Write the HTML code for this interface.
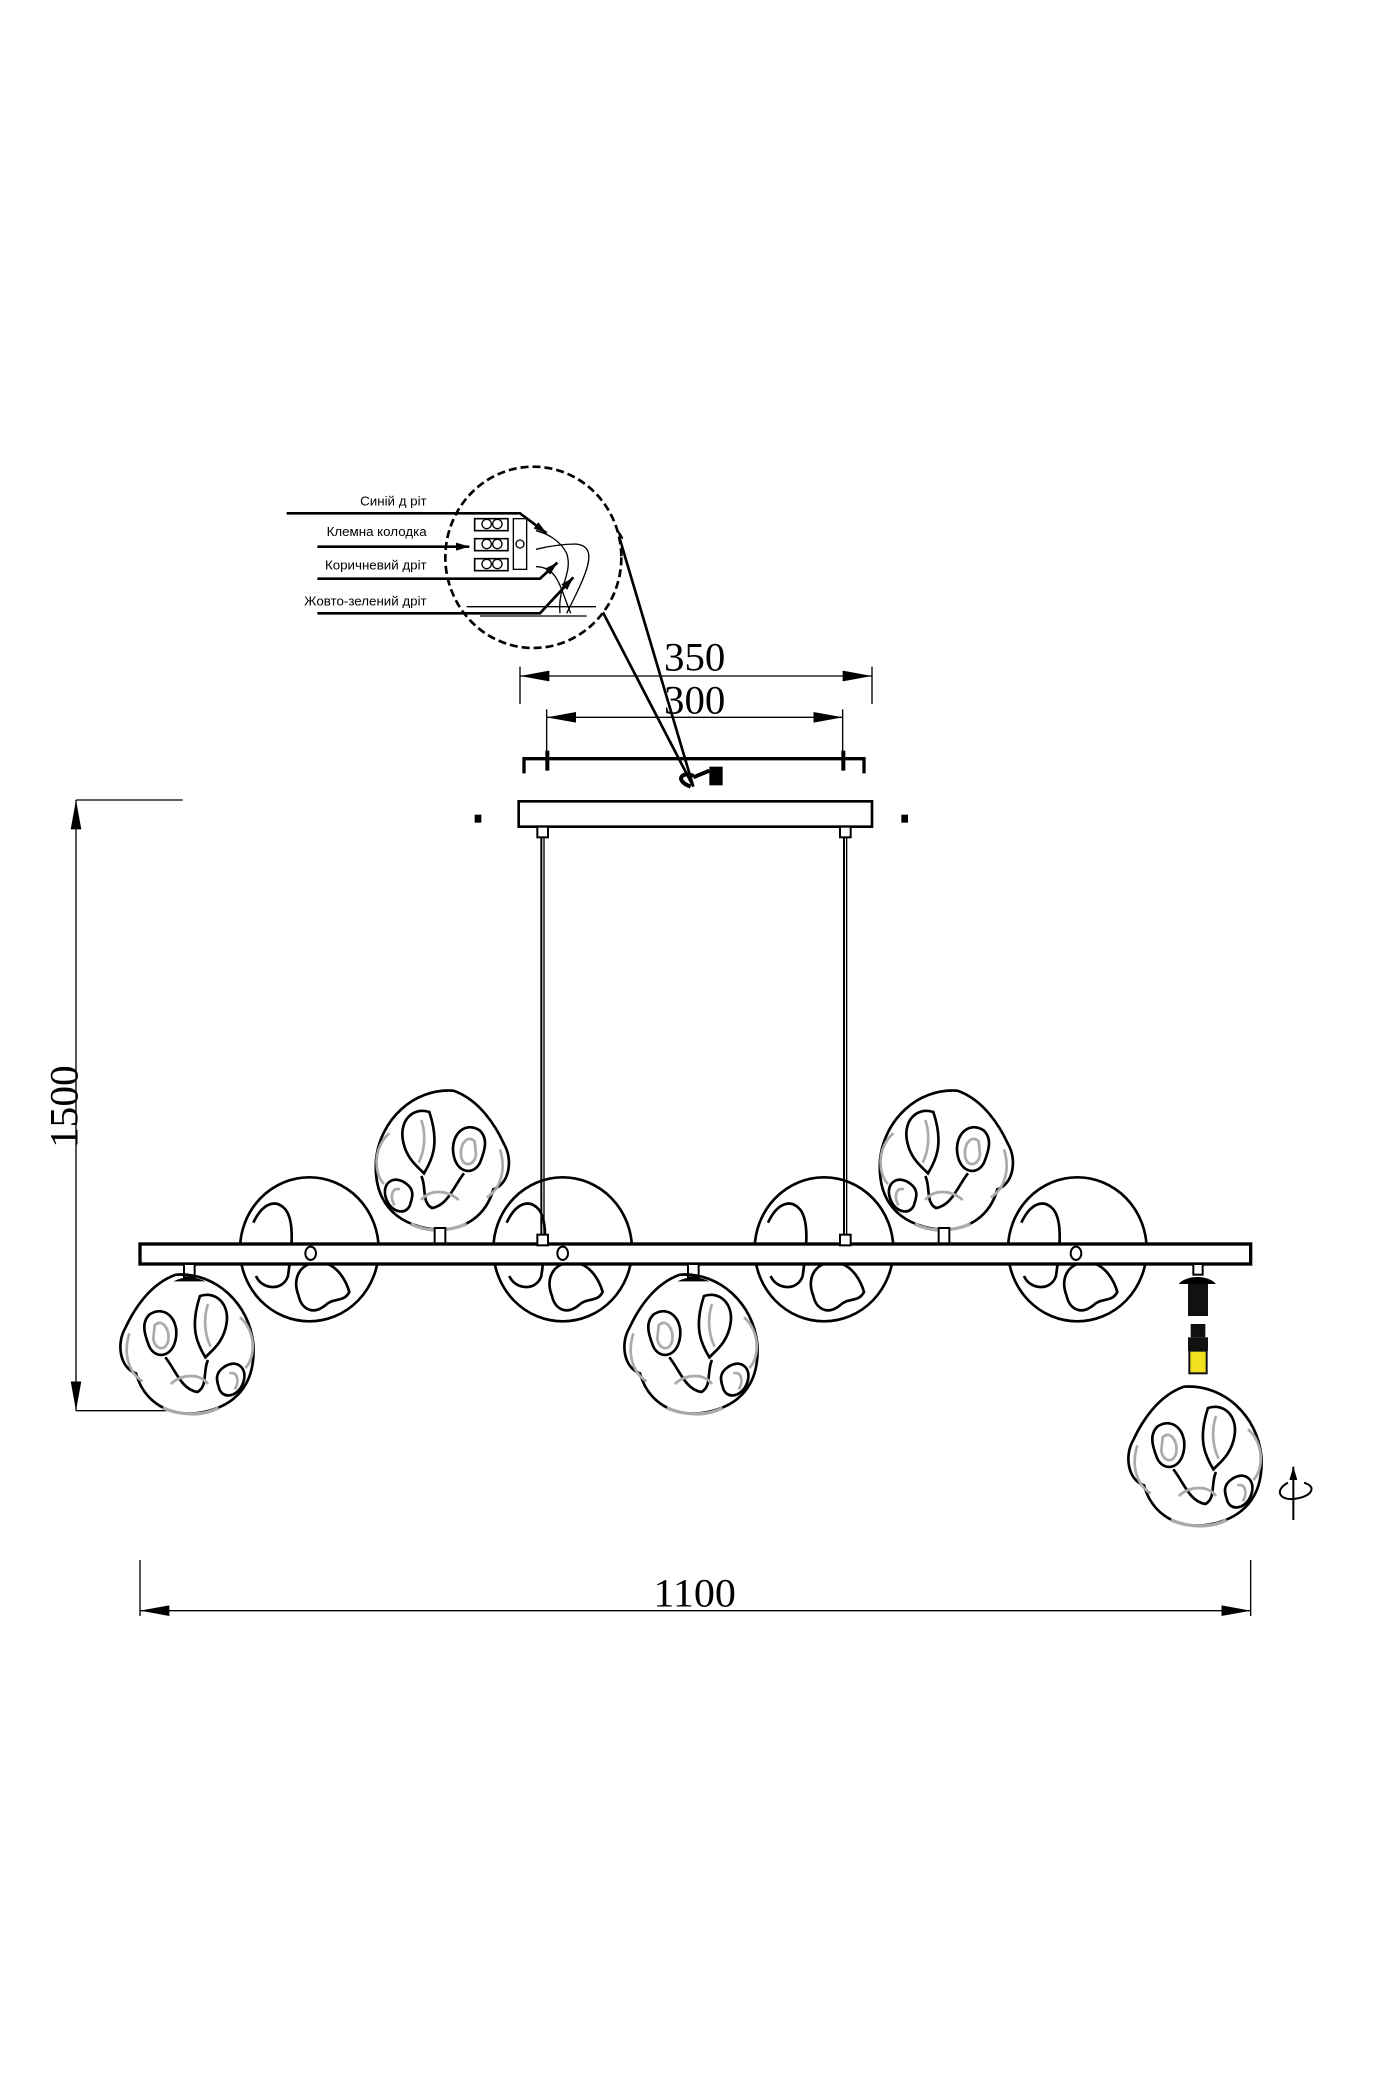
<!DOCTYPE html>
<html><head><meta charset="utf-8"><style>html,body{margin:0;padding:0;background:#fff}svg{display:block}</style></head>
<body>
<svg width="1400" height="2100" viewBox="0 0 1050 1575" xmlns="http://www.w3.org/2000/svg">
<defs>
<marker id="ar" viewBox="0 0 10 6" refX="10" refY="3" markerWidth="10" markerHeight="6" orient="auto-start-reverse" markerUnits="userSpaceOnUse"><path d="M0,0 L10,3 L0,6 Z" fill="#000"/></marker>
<marker id="ab" viewBox="0 0 22 8" refX="22" refY="4" markerWidth="22" markerHeight="8" orient="auto-start-reverse" markerUnits="userSpaceOnUse"><path d="M0,0 L22,4 L0,8 Z" fill="#000"/></marker>
<g id="tg">
 <path d="M-10,-52 C20,-54 45,-30 48,0 C50,30 35,48 5,52 C-20,54 -35,40 -40,22 C-52,18 -55,0 -48,-12 C-42,-25 -30,-45 -10,-52 Z" fill="none" stroke="#000" stroke-width="2"/>
 <path d="M-30,-22 C-18,-30 -8,-18 -10,-5 C-12,10 -25,12 -30,2 C-34,-8 -36,-16 -30,-22 Z" fill="none" stroke="#000" stroke-width="2"/>
 <path d="M-26,-14 C-20,-20 -14,-10 -16,-2 C-18,6 -26,4 -27,-4 Z" fill="none" stroke="#aaa" stroke-width="2"/>
 <path d="M8,-36 C20,-40 30,-30 28,-16 C26,-2 18,4 12,10 C6,0 0,-12 8,-36 Z" fill="none" stroke="#000" stroke-width="2"/>
 <path d="M14,-30 C10,-18 12,-6 16,2" fill="none" stroke="#aaa" stroke-width="2"/>
 <path d="M25,18 C35,10 45,18 40,30 C36,40 24,42 22,32 C20,26 20,22 25,18 Z" fill="none" stroke="#000" stroke-width="2"/>
 <path d="M30,22 C36,20 38,28 34,34" fill="none" stroke="#aaa" stroke-width="2"/>
 <path d="M-18,10 C-10,20 -6,34 6,36 C14,32 10,20 14,12" fill="none" stroke="#000" stroke-width="2"/>
 <path d="M-14,30 C-5,22 8,22 14,30" fill="none" stroke="#aaa" stroke-width="2"/>
 <path d="M-45,-8 C-50,8 -45,22 -35,28" fill="none" stroke="#aaa" stroke-width="2"/>
 <path d="M38,-20 C50,-10 50,10 42,18" fill="none" stroke="#aaa" stroke-width="2"/>
 <path d="M-20,48 C-5,54 10,54 22,48" fill="none" stroke="#aaa" stroke-width="2.5"/>
</g>
<g id="cg">
 <ellipse cx="0" cy="0" rx="52" ry="54" fill="none" stroke="#000" stroke-width="2"/>
 <path d="M-42,-20 C-35,-35 -25,-38 -18,-30 C-10,-20 -14,5 -16,20 C-20,32 -36,30 -40,20" fill="none" stroke="#000" stroke-width="2"/>
 <path d="M-8,35 C-14,20 -5,8 10,10 C22,12 28,25 30,32 C26,40 18,36 12,42 C2,50 -6,44 -8,35 Z" fill="none" stroke="#000" stroke-width="2"/>
</g>
</defs>
<g font-family="Liberation Serif, serif" fill="#000">
<!-- 1500 dimension -->
<line x1="57" y1="600" x2="137" y2="600" stroke="#000" stroke-width="1"/>
<line x1="57" y1="1058" x2="125" y2="1058" stroke="#000" stroke-width="1"/>
<line x1="57" y1="600" x2="57" y2="1058" stroke="#000" stroke-width="1" marker-start="url(#ab)" marker-end="url(#ab)"/>
<text x="0" y="0" font-size="30" transform="translate(58,830) rotate(-90)" text-anchor="middle" textLength="62" lengthAdjust="spacingAndGlyphs">1500</text>
<!-- 1100 -->
<line x1="105" y1="1170" x2="105" y2="1212" stroke="#000" stroke-width="1"/>
<line x1="938" y1="1170" x2="938" y2="1212" stroke="#000" stroke-width="1"/>
<line x1="105" y1="1208" x2="938" y2="1208" stroke="#000" stroke-width="1" marker-start="url(#ab)" marker-end="url(#ab)"/>
<text x="521" y="1205" font-size="30" text-anchor="middle" textLength="62" lengthAdjust="spacingAndGlyphs">1100</text>
<!-- 350 / 300 -->
<line x1="390" y1="500" x2="390" y2="528" stroke="#000" stroke-width="1"/>
<line x1="654" y1="500" x2="654" y2="528" stroke="#000" stroke-width="1"/>
<line x1="390" y1="507" x2="654" y2="507" stroke="#000" stroke-width="1" marker-start="url(#ab)" marker-end="url(#ab)"/>
<text x="521" y="503" font-size="30" text-anchor="middle" textLength="46" lengthAdjust="spacingAndGlyphs">350</text>
<line x1="410" y1="532" x2="410" y2="568" stroke="#000" stroke-width="1"/>
<line x1="632" y1="532" x2="632" y2="568" stroke="#000" stroke-width="1"/>
<line x1="410" y1="538" x2="632" y2="538" stroke="#000" stroke-width="1" marker-start="url(#ab)" marker-end="url(#ab)"/>
<text x="521" y="535" font-size="30" text-anchor="middle" textLength="46" lengthAdjust="spacingAndGlyphs">300</text>
</g>
<!-- ceiling bracket -->
<path d="M393,580 L393,569 L648,569 L648,580" fill="none" stroke="#000" stroke-width="2.5"/>
<rect x="409" y="563" width="3" height="15" fill="#000"/><rect x="631" y="563" width="3" height="15" fill="#000"/>
<!-- teardrop callout lines -->
<path d="M463,398 L520,590 L450,455" fill="none" stroke="#000" stroke-width="2"/>
<path d="M518,590 C505,585 512,578 520,582 M520,583 L532,578" fill="none" stroke="#000" stroke-width="3"/>
<rect x="532" y="575" width="10" height="14" fill="#000"/>
<!-- canopy -->
<rect x="389" y="601" width="265" height="19" fill="#fff" stroke="#000" stroke-width="2"/>
<rect x="356" y="611" width="5" height="6" fill="#000"/><rect x="676" y="611" width="5" height="6" fill="#000"/>
<rect x="403" y="620" width="8" height="8" fill="#fff" stroke="#000" stroke-width="1.5"/>
<rect x="630" y="620" width="8" height="8" fill="#fff" stroke="#000" stroke-width="1.5"/>
<line x1="406" y1="628" x2="406" y2="928" stroke="#000" stroke-width="1.5"/><line x1="408" y1="628" x2="408" y2="928" stroke="#000" stroke-width="1"/>
<line x1="633" y1="628" x2="633" y2="928" stroke="#000" stroke-width="1.5"/><line x1="635" y1="628" x2="635" y2="928" stroke="#000" stroke-width="1"/>
<!-- callout circle -->
<ellipse cx="400" cy="418" rx="66" ry="68" fill="#fff" stroke="#000" stroke-width="2" stroke-dasharray="6,3"/>
<path d="M463,398 C470,410 466,400 463,398" fill="none" stroke="#000"/>
<g font-family="Liberation Sans, DejaVu Sans, sans-serif" font-size="10" fill="#000" text-anchor="end">
<text x="320" y="379">Синій д ріт</text>
<text x="320" y="402">Клемна колодка</text>
<text x="320" y="427">Коричневий дріт</text>
<text x="320" y="454">Жовто-зелений дріт</text>
</g>
<g stroke="#000" fill="none">
<rect x="356" y="389" width="25" height="9" stroke-width="1.2"/><rect x="356" y="404" width="25" height="9" stroke-width="1.2"/><rect x="356" y="419" width="25" height="9" stroke-width="1.2"/>
<circle cx="365" cy="393" r="3.5"/><circle cx="373" cy="393" r="3.5"/><circle cx="365" cy="408" r="3.5"/><circle cx="373" cy="408" r="3.5"/><circle cx="365" cy="423" r="3.5"/><circle cx="373" cy="423" r="3.5"/>
<rect x="385" y="389" width="10" height="38" stroke-width="1"/><circle cx="390" cy="408" r="3"/>
<path d="M420,460 C418,440 430,430 425,415 C420,405 410,400 402,398" stroke-width="1"/>
<path d="M425,460 C440,430 450,410 432,408 C420,408 410,410 402,412" stroke-width="1"/>
<path d="M428,460 C420,440 418,425 402,425" stroke-width="1"/>
<line x1="350" y1="455" x2="447" y2="455" stroke-width="1"/><line x1="360" y1="462" x2="440" y2="462" stroke-width="1"/>
<path d="M215,385 L390,385 L410,400" stroke-width="2" marker-end="url(#ar)"/>
<path d="M238,410 L352,410" stroke-width="2" marker-end="url(#ar)"/>
<path d="M238,434 L405,434 L418,422" stroke-width="2" marker-end="url(#ar)"/>
<path d="M238,460 L405,460 L430,433" stroke-width="2" marker-end="url(#ar)"/>
</g>
<!-- textured globes above bar -->
<use href="#tg" transform="translate(330,870) scale(-1,1)"/>
<use href="#tg" transform="translate(708,870) scale(-1,1)"/>
<rect x="326" y="921" width="8" height="12" fill="#fff" stroke="#000" stroke-width="1.5"/>
<rect x="704" y="921" width="8" height="12" fill="#fff" stroke="#000" stroke-width="1.5"/>
<!-- clear globes -->
<use href="#cg" transform="translate(232,937)"/>
<use href="#cg" transform="translate(422,937)"/>
<use href="#cg" transform="translate(618,937)"/>
<use href="#cg" transform="translate(808,937)"/>
<!-- bar -->
<rect x="105" y="933" width="833" height="15" fill="#fff" stroke="#000" stroke-width="2.5"/>
<rect x="403" y="926" width="8" height="8" fill="#fff" stroke="#000" stroke-width="1.5"/>
<rect x="630" y="926" width="8" height="8" fill="#fff" stroke="#000" stroke-width="1.5"/>
<g fill="none" stroke="#000" stroke-width="1.5">
<ellipse cx="233" cy="940" rx="4" ry="5"/><ellipse cx="422" cy="940" rx="4" ry="5"/><ellipse cx="807" cy="940" rx="4" ry="5"/>
</g>
<!-- lower globes -->
<rect x="138" y="948" width="8" height="10" fill="#fff" stroke="#000" stroke-width="1.5"/>
<rect x="516" y="948" width="8" height="10" fill="#fff" stroke="#000" stroke-width="1.5"/>
<use href="#tg" transform="translate(142,1008)"/>
<use href="#tg" transform="translate(520,1008)"/>
<path d="M130,961 C138,957 146,957 154,961 Z M508,961 C516,957 524,957 532,961 Z" fill="#000"/>
<!-- loose socket -->
<rect x="895" y="948" width="7" height="8" fill="#fff" stroke="#000" stroke-width="1.5"/>
<path d="M884,963 C890,956 906,956 912,963 Z" fill="#000"/>
<rect x="891" y="963" width="15" height="24" fill="#111"/>
<rect x="893" y="993" width="11" height="10" fill="#111"/>
<rect x="891" y="1003" width="15" height="10" fill="#111"/>
<rect x="892" y="1013" width="13" height="17" fill="#f0e020" stroke="#111" stroke-width="1.5"/>
<use href="#tg" transform="translate(898,1092)"/>
<g stroke="#000" stroke-width="1.5" fill="none">
<line x1="970" y1="1140" x2="970" y2="1100" marker-end="url(#ar)"/>
<path d="M966,1112 C955,1118 960,1126 972,1124 C984,1122 988,1115 978,1112"/>
</g>
</svg>
</body></html>
